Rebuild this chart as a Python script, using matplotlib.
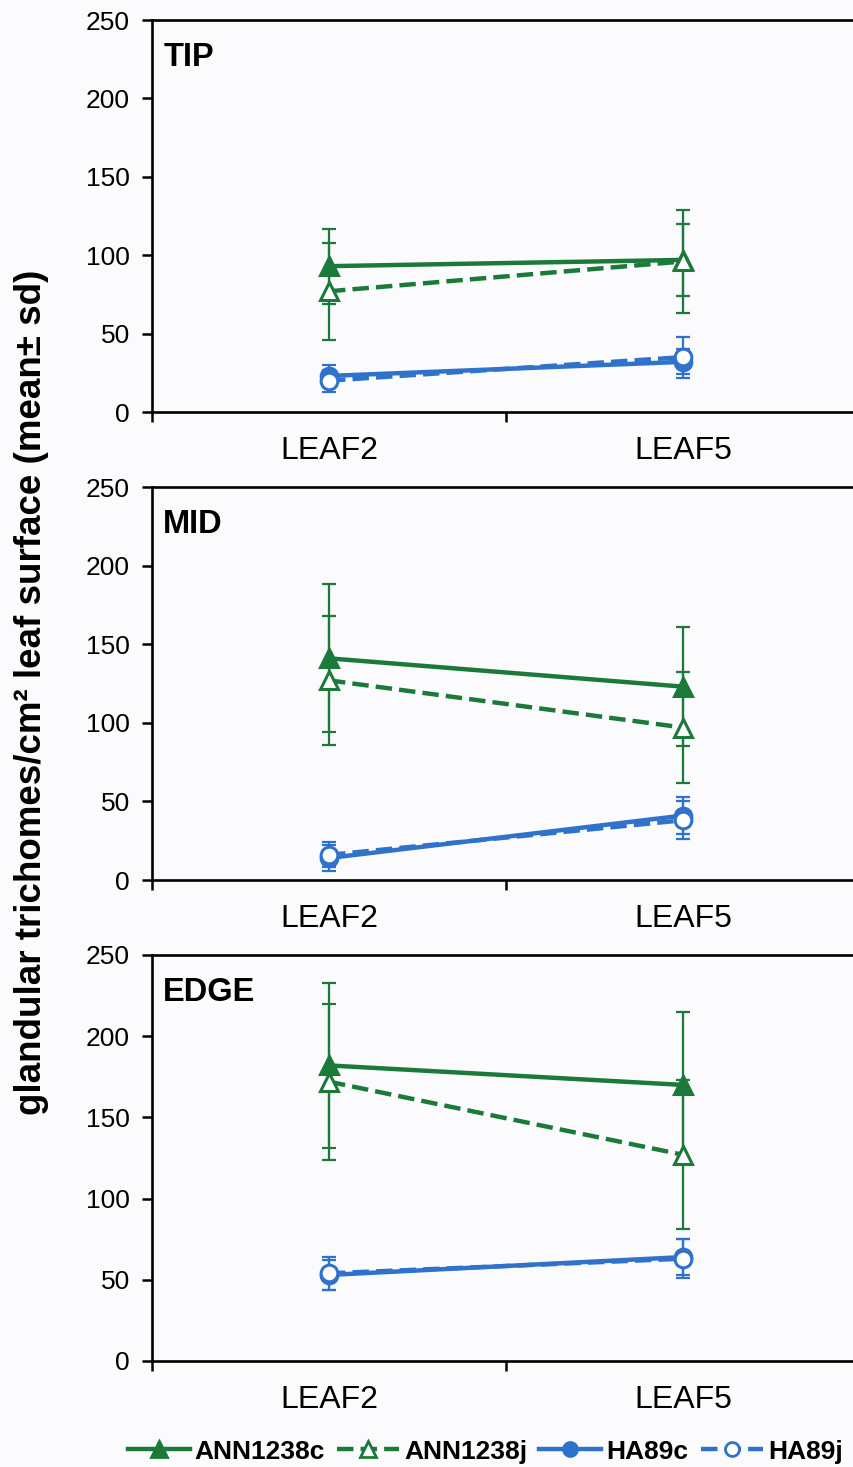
import numpy as np
import matplotlib
matplotlib.use('Agg')
import matplotlib.pyplot as plt
from matplotlib.lines import Line2D

plt.rcParams['font.family'] = ['Liberation Sans', 'DejaVu Sans']

# Dữ liệu
categories = ['LEAF2', 'LEAF5']
panels = ['TIP', 'MID', 'EDGE']
series = ['ANN1238c', 'ANN1238j', 'HA89c', 'HA89j']

tip_mean = {'ANN1238c': [93, 97], 'ANN1238j': [77, 96], 'HA89c': [23, 32], 'HA89j': [20, 35]}
tip_sd = {'ANN1238c': [24, 23], 'ANN1238j': [31, 33], 'HA89c': [7, 8], 'HA89j': [7, 13]}
mid_mean = {'ANN1238c': [141, 123], 'ANN1238j': [127, 97], 'HA89c': [14, 41], 'HA89j': [16, 38]}
mid_sd = {'ANN1238c': [47, 38], 'ANN1238j': [41, 35], 'HA89c': [8, 12], 'HA89j': [8, 12]}
edge_mean = {'ANN1238c': [182, 170], 'ANN1238j': [172, 127], 'HA89c': [53, 64], 'HA89j': [54, 63]}
edge_sd = {'ANN1238c': [51, 45], 'ANN1238j': [48, 46], 'HA89c': [9, 11], 'HA89j': [10, 12]}

green = '#1b7a3a'
blue = '#2e72cc'
styles = {
    'ANN1238c': dict(color=green, ls='-', marker='^', mfc=green, ms=13),
    'ANN1238j': dict(color=green, ls='--', marker='^', mfc='white', ms=13),
    'HA89c': dict(color=blue, ls='-', marker='o', mfc=blue, ms=12),
    'HA89j': dict(color=blue, ls='--', marker='o', mfc='white', ms=12),
}

bg = '#fbfbfd'
fig = plt.figure(figsize=(8.54, 14.67), dpi=100, facecolor=bg)

# vị trí các ô (theo pixel của hình gốc)
boxes = [(20, 412), (487, 880), (955, 1361)]
H = 1467.0
left = 152 / 854.0
width = 708 / 854.0
data_sets = [(tip_mean, tip_sd), (mid_mean, mid_sd), (edge_mean, edge_sd)]
x = np.arange(len(categories))

for k, (name, (top_px, bot_px)) in enumerate(zip(panels, boxes)):
    ax = fig.add_axes([left, 1 - bot_px / H, width, (bot_px - top_px) / H])
    ax.set_facecolor(bg)
    means, sds = data_sets[k]
    for s in series:
        st = styles[s]
        ax.errorbar(x, means[s], yerr=sds[s], fmt='none', ecolor=st['color'],
                    elinewidth=1.6, capsize=5, capthick=1.6, zorder=2, clip_on=False)
    for s in series:
        st = styles[s]
        ax.plot(x, means[s], color=st['color'], ls=st['ls'], lw=3.2,
                marker=st['marker'], ms=st['ms'], mfc=st['mfc'], mec=st['color'],
                mew=2.2, zorder=3, clip_on=False)
    ax.set_xlim(-0.5, 1.5)
    ax.set_ylim(0, 250)
    ax.set_yticks([0, 50, 100, 150, 200, 250])
    ax.set_xticks(x)
    ax.set_xticklabels(categories, fontsize=23)
    ax.set_xticks([-0.5, 0.5, 1.5], minor=True)
    ax.tick_params(axis='x', which='major', length=0, pad=17)
    ax.tick_params(axis='x', which='minor', length=7, width=1.8, direction='out')
    ax.tick_params(axis='y', length=7, width=1.8, direction='out', labelsize=19, pad=9)
    for sp in ['left', 'bottom', 'top']:
        ax.spines[sp].set_linewidth(1.9)
    ax.spines['right'].set_visible(False)
    ax.text(0.016, 0.945, name, transform=ax.transAxes, fontsize=23.5,
            fontweight='bold', ha='left', va='top')

fig.text(0.037, 0.528, 'glandular trichomes/cm² leaf surface (mean± sd)',
         rotation=90, fontsize=26.5, fontweight='bold', ha='center', va='center')

handles = []
for s in series:
    st = styles[s]
    handles.append(Line2D([], [], color=st['color'], ls=st['ls'], lw=3.2,
                          marker=st['marker'], ms=st['ms'] - 2, mfc=st['mfc'],
                          mec=st['color'], mew=2))
fig.legend(handles, series, loc='center', bbox_to_anchor=(0.568, 0.0105), ncol=4,
           frameon=False, prop={'weight': 'bold', 'size': 19},
           handlelength=2.35, handletextpad=0.2, columnspacing=0.45)

plt.savefig('out.png', dpi=100, facecolor=bg)
